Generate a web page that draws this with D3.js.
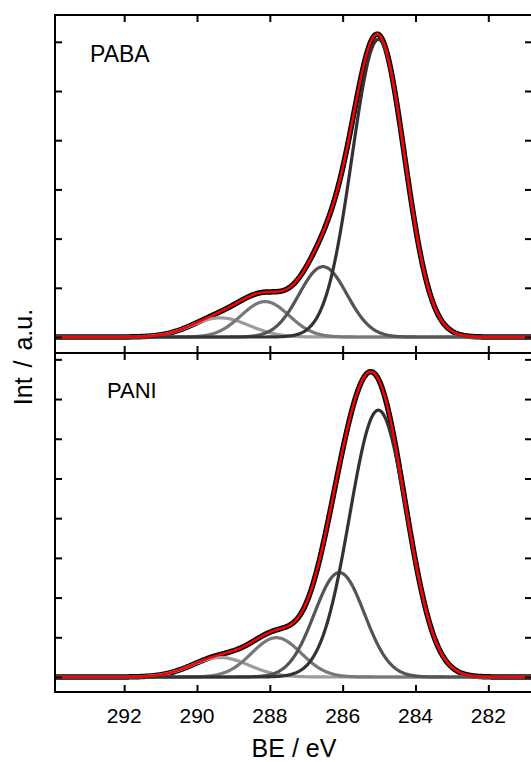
<!DOCTYPE html>
<html>
<head>
<meta charset="utf-8">
<script src="https://cdn.jsdelivr.net/npm/d3@7"></script>
<style>
  body { margin: 0; background: #fff; }
  svg { display: block; font-family: "Liberation Sans", Arial, sans-serif; }
</style>
</head>
<body>
<div id="chart"></div>
<script>
// x axis ticks (binding energy, eV)
const xTicks = [292, 290, 288, 286, 284, 282];

// panel labels
const panelNames = ["PABA", "PANI"];

// fitted components: centre (eV), height (a.u.), FWHM (eV)
const pabaCentres = [285.02, 286.54, 288.13, 289.36];
const pabaHeights = [6.05, 1.43, 0.72, 0.39];
const pabaFwhm    = [1.70, 1.55, 1.55, 1.85];

const paniCentres = [285.02, 286.09, 287.82, 289.36];
const paniHeights = [6.72, 2.63, 0.99, 0.49];
const paniFwhm    = [1.85, 1.62, 1.60, 1.85];

// y ticks per panel
const pabaYTicks = [0, 1, 2, 3, 4, 5, 6];
const paniYTicks = [0, 1, 2, 3, 4, 5, 6, 7, 8];

const compColors = ["#333333", "#555555", "#787878", "#9c9c9c"];

const W = 531, H = 762;
const left = 55, right = 532;

const svg = d3.select("#chart").append("svg")
  .attr("width", W)
  .attr("height", H);

const x = d3.scaleLinear().domain([293.9, 280.8]).range([left, right]);

const panels = [
  { name: panelNames[0], c: pabaCentres, h: pabaHeights, w: pabaFwhm, ticks: pabaYTicks,
    top: 15, bottom: 353, domain: [-0.325, 6.545], label: [90, 62], labelSize: 23 },
  { name: panelNames[1], c: paniCentres, h: paniHeights, w: paniFwhm, ticks: paniYTicks,
    top: 353, bottom: 692, domain: [-0.378, 8.16], label: [107, 398], labelSize: 22 }
];

// sample grid for drawing the peaks
const grid = d3.range(293.9, 280.79, -0.02);

function gauss(e, c, h, fw) {
  const s = fw / 2.3548;
  return h * Math.exp(-((e - c) * (e - c)) / (2 * s * s));
}

panels.forEach((p, i) => {
  const y = d3.scaleLinear().domain(p.domain).range([p.bottom, p.top]);
  const g = svg.append("g");

  const clipId = "clip" + i;
  svg.append("clipPath").attr("id", clipId)
    .append("rect")
    .attr("x", left).attr("y", p.top)
    .attr("width", right - left).attr("height", p.bottom - p.top);

  const plot = g.append("g").attr("clip-path", `url(#${clipId})`);

  const line = d3.line()
    .x(d => x(d[0]))
    .y(d => y(d[1]));

  const comps = p.c.map((c, k) => grid.map(e => [e, gauss(e, c, p.h[k], p.w[k])]));
  const env = grid.map((e, j) => [e, d3.sum(comps, cc => cc[j][1])]);

  // measured spectrum (thick black under the fit)
  plot.append("path")
    .attr("d", line(env))
    .attr("fill", "none")
    .attr("stroke", "#000")
    .attr("stroke-width", 5.5)
    .attr("stroke-linejoin", "round");

  // components, lightest first
  comps.slice().reverse().forEach((cc, k) => {
    const idx = comps.length - 1 - k;
    plot.append("path")
      .attr("d", line(cc))
      .attr("fill", "none")
      .attr("stroke", compColors[idx])
      .attr("stroke-width", 3.2);
  });

  // envelope
  plot.append("path")
    .attr("d", line(env))
    .attr("fill", "none")
    .attr("stroke", "#ff0000")
    .attr("stroke-width", 2.5)
    .attr("stroke-linejoin", "round");

  // axes with inward ticks
  const tick = 7;
  g.append("g")
    .attr("transform", `translate(0,${p.top})`)
    .call(d3.axisTop(x).tickValues(xTicks).tickSize(-tick).tickFormat("").tickSizeOuter(0));
  g.append("g")
    .attr("transform", `translate(0,${p.bottom})`)
    .call(d3.axisBottom(x).tickValues(xTicks).tickSize(-tick).tickFormat("").tickSizeOuter(0));
  g.append("g")
    .attr("transform", `translate(${left},0)`)
    .call(d3.axisLeft(y).tickValues(p.ticks).tickSize(-tick).tickFormat("").tickSizeOuter(0));
  g.append("g")
    .attr("transform", `translate(${right},0)`)
    .call(d3.axisRight(y).tickValues(p.ticks).tickSize(-tick).tickFormat("").tickSizeOuter(0));

  g.selectAll(".tick line").attr("stroke", "#000").attr("stroke-width", 2);
  g.selectAll(".domain").remove();

  g.append("rect")
    .attr("x", left).attr("y", p.top)
    .attr("width", right - left).attr("height", p.bottom - p.top)
    .attr("fill", "none")
    .attr("stroke", "#000")
    .attr("stroke-width", 2);

  g.append("text")
    .attr("x", p.label[0]).attr("y", p.label[1])
    .attr("font-size", p.labelSize)
    .attr("fill", "#000")
    .text(p.name);
});

// x tick labels under the lower panel
svg.append("g").selectAll("text")
  .data(xTicks)
  .join("text")
  .attr("x", d => x(d))
  .attr("y", 723)
  .attr("text-anchor", "middle")
  .attr("font-size", 21)
  .text(d => d);

svg.append("text")
  .attr("x", 294).attr("y", 757)
  .attr("text-anchor", "middle")
  .attr("font-size", 25)
  .text("BE / eV");

svg.append("text")
  .attr("transform", "translate(32,357) rotate(-90)")
  .attr("text-anchor", "middle")
  .attr("font-size", 25)
  .attr("word-spacing", 3)
  .text("Int / a.u.");
</script>
</body>
</html>
